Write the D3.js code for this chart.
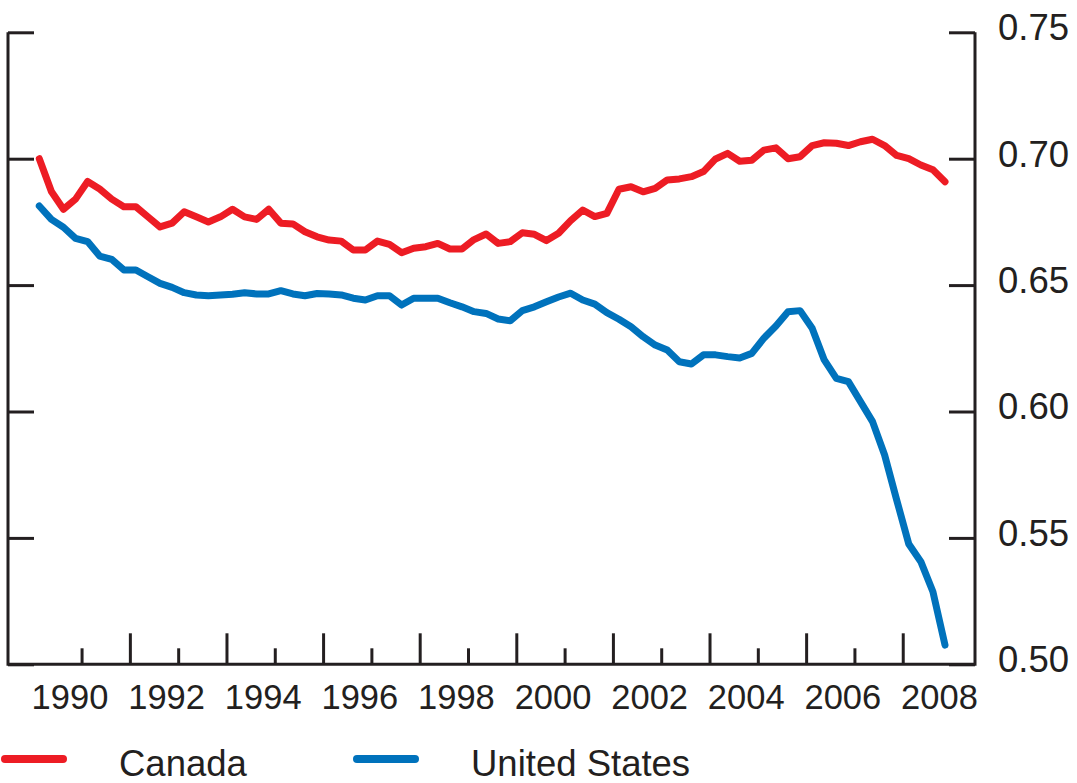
<!DOCTYPE html>
<html>
<head>
<meta charset="utf-8">
<script src="https://cdn.jsdelivr.net/npm/d3@7"></script>
<style>
  html, body { margin: 0; padding: 0; background: #fff; }
  svg { display: block; font-family: "Liberation Sans", Arial, sans-serif; }
</style>
</head>
<body>
<div id="container"></div>
<script>
// quarterly values, 1989Q4 .. 2008Q3
const firstYear = 1989, firstQuarter = 4

const canada = [
  0.700, 0.687, 0.680, 0.684, 0.691, 0.688, 0.684, 0.681, 0.681, 0.677,
  0.673, 0.6745, 0.679, 0.677, 0.675, 0.677, 0.680, 0.677, 0.676, 0.680,
  0.6745, 0.6742, 0.6711, 0.6691, 0.6678, 0.6674, 0.6639, 0.6639, 0.6674, 0.6661,
  0.6628, 0.6646, 0.6652, 0.6665, 0.6643, 0.6643, 0.6680, 0.6702, 0.6665, 0.6672,
  0.6707, 0.6701, 0.6676, 0.6705, 0.6755, 0.6797, 0.6771, 0.6784, 0.6879, 0.6889,
  0.6869, 0.6883, 0.6916, 0.6920, 0.6929, 0.6949, 0.6999, 0.7021, 0.6990, 0.6994,
  0.7034, 0.7043, 0.7000, 0.7008, 0.7052, 0.7063, 0.7061, 0.7052, 0.7067, 0.7077,
  0.7052, 0.7013, 0.7000, 0.6975, 0.6956, 0.6909
]

const unitedStates = [
  0.6813, 0.6760, 0.6729, 0.6685, 0.6672, 0.6615, 0.6602, 0.6560, 0.6560, 0.6533,
  0.6507, 0.6491, 0.6470, 0.6461, 0.6458, 0.6461, 0.6464, 0.6470, 0.6465, 0.6465,
  0.6478, 0.6465, 0.6458, 0.6467, 0.6465, 0.6461, 0.6448, 0.6441, 0.6458, 0.6458,
  0.6421, 0.6448, 0.6448, 0.6448, 0.6430, 0.6414, 0.6395, 0.6388, 0.6366, 0.6359,
  0.6399, 0.6414, 0.6434, 0.6453, 0.6468, 0.6441, 0.6425, 0.6391, 0.6365, 0.6335,
  0.6296, 0.6263, 0.6243, 0.6197, 0.6188, 0.6224, 0.6224, 0.6217, 0.6212, 0.6230,
  0.6290, 0.6338, 0.6395, 0.6399, 0.6329, 0.6204, 0.6131, 0.6118, 0.6039, 0.5960,
  0.5828, 0.5650, 0.5476, 0.5406, 0.5287, 0.5076
]

const yTicks = [0.50, 0.55, 0.60, 0.65, 0.70, 0.75]
const tickYears = d3.range(1990, 2008)          // tick between years
const labelYears = d3.range(1990, 2009, 2)      // 1990 ... 2008

const series = [
  { name: "Canada", values: canada, color: "#ed1c24" },
  { name: "United States", values: unitedStates, color: "#0072bc" }
]

const width = 1077
const height = 783
const ink = "#231f20"

// time in decimal years, each quarter at its midpoint
const quarterTime = (i) => firstYear + (firstQuarter - 1 + i + 0.5) / 4

const frame = { left: 8, right: 975, top: 32.3, bottom: 664.3 }

const x = d3.scaleLinear()
  .domain([quarterTime(0), quarterTime(canada.length - 1)])
  .range([39.3, 945])

const y = d3.scaleLinear()
  .domain([0.50, 0.75])
  .range([frame.bottom, frame.top])

const svg = d3.create("svg")
  .attr("width", width)
  .attr("height", height)
  .attr("viewBox", [0, 0, width, height])

// left axis: ticks only, pointing inward
svg.append("g")
  .attr("transform", `translate(${frame.left},0)`)
  .call(d3.axisRight(y).tickValues(yTicks).tickSize(26).tickFormat(""))
  .call(g => g.select(".domain").remove())

// right axis with labels
svg.append("g")
  .attr("class", "yaxis")
  .attr("transform", `translate(${frame.right},0)`)
  .call(d3.axisRight(y).tickValues(yTicks).tickSizeInner(-26).tickSizeOuter(0)
    .tickPadding(23).tickFormat(d3.format(".2f")))
  .call(g => g.select(".domain").remove())
  .call(g => g.selectAll("text")
    .attr("dy", "0.2em")
    .style("font-size", "36.5px"))

// bottom ticks: tall every other year
svg.append("g")
  .attr("class", "xaxis")
  .attr("transform", `translate(0,${frame.bottom})`)
  .call(d3.axisBottom(x).tickValues(tickYears.map(d => d + 0.75)).tickFormat(""))
  .call(g => g.select(".domain").remove())
  .call(g => g.selectAll(".tick line")
    .attr("y2", d => (Math.floor(d) % 2 === 1) ? -31 : -16))

// year labels centred on each year
svg.append("g")
  .attr("transform", `translate(0,${frame.bottom})`)
  .call(d3.axisBottom(x).tickValues(labelYears.map(d => d + 0.5))
    .tickSize(0).tickPadding(20.5).tickFormat(d => Math.floor(d)))
  .call(g => g.select(".domain").remove())
  .call(g => g.selectAll("text").style("font-size", "34.5px"))

// frame
svg.append("path")
  .attr("d", `M${frame.left},${frame.top}V${frame.bottom}H${frame.right}V${frame.top}`)
  .attr("fill", "none")
  .attr("stroke", ink)
  .attr("stroke-width", 3)

svg.selectAll(".tick line")
  .attr("stroke", ink)
  .attr("stroke-width", 3)
svg.selectAll(".tick text")
  .attr("fill", ink)
  .style("font-family", "'Liberation Sans', Arial, sans-serif")

// lines
const line = d3.line()
  .x((d, i) => x(quarterTime(i)))
  .y(d => y(d))

svg.append("g")
  .selectAll("path")
  .data(series)
  .join("path")
    .attr("d", d => line(d.values))
    .attr("fill", "none")
    .attr("stroke", d => d.color)
    .attr("stroke-width", 7)
    .attr("stroke-linejoin", "round")
    .attr("stroke-linecap", "round")

// legend
const legend = svg.append("g")
  .selectAll("g")
  .data(series)
  .join("g")
    .attr("transform", (d, i) => `translate(${i === 0 ? 5 : 357},759)`)

legend.append("line")
  .attr("x1", 0).attr("x2", 58)
  .attr("stroke", d => d.color)
  .attr("stroke-width", 8)
  .attr("stroke-linecap", "round")

legend.append("text")
  .attr("x", 114)
  .attr("y", 17)
  .attr("fill", ink)
  .style("font-size", "36.5px")
  .text(d => d.name)

document.getElementById("container").append(svg.node())
</script>
</body>
</html>
